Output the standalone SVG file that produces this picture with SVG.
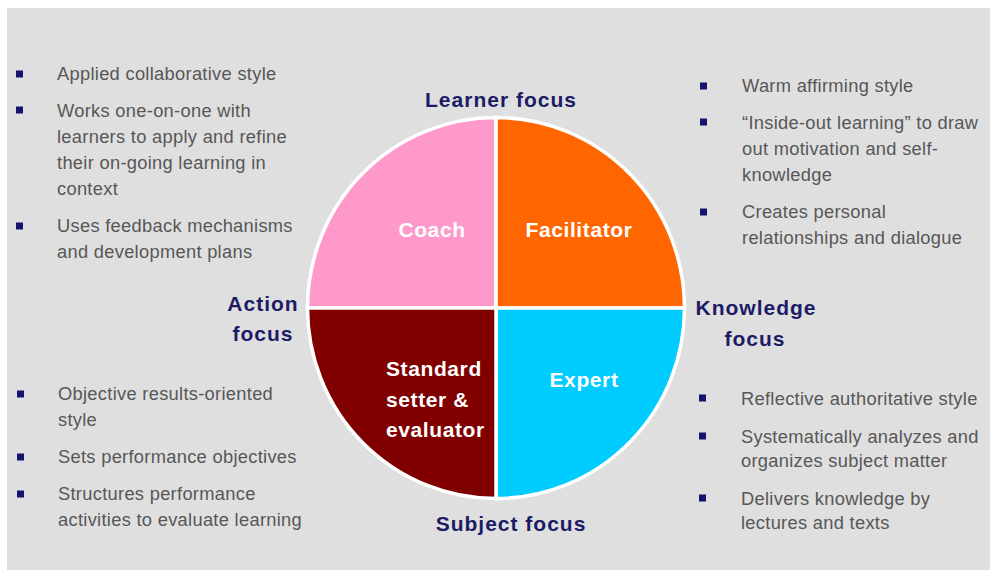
<svg xmlns="http://www.w3.org/2000/svg" width="990" height="580" viewBox="0 0 990 580">
<style>
.body{font-family:"Liberation Sans",Arial,sans-serif;font-size:18.3px;fill:#575757;letter-spacing:0.3px}
.axis{font-family:"Liberation Sans",Arial,sans-serif;font-size:21px;font-weight:bold;fill:#1c1c66;letter-spacing:1px}
.role{font-family:"Liberation Sans",Arial,sans-serif;font-size:21px;font-weight:bold;fill:#ffffff;letter-spacing:0.6px}
.q{stroke:#ffffff;stroke-width:3.5;stroke-linejoin:miter}
.b{fill:#14146e}
</style>
<rect x="0" y="0" width="990" height="580" fill="#ffffff"/>
<rect x="7" y="8" width="983" height="562" fill="#dfdfdf"/>

<g id="coach">
<path class="q" fill="#ff99cc" d="M496,308 L307.5,308 A188.5,190.5 0 0 1 496,117.5 Z"/>
<text class="role" x="432" y="237" text-anchor="middle">Coach</text>
</g>
<g id="facilitator">
<path class="q" fill="#ff6600" d="M496,308 L496,117.5 A188.5,190.5 0 0 1 684.5,308 Z"/>
<text class="role" x="579" y="237" text-anchor="middle">Facilitator</text>
</g>
<g id="expert">
<path class="q" fill="#00ccff" d="M496,308 L684.5,308 A188.5,190.5 0 0 1 496,498.5 Z"/>
<text class="role" x="584" y="387" text-anchor="middle">Expert</text>
</g>
<g id="standard-setter">
<path class="q" fill="#800000" d="M496,308 L496,498.5 A188.5,190.5 0 0 1 307.5,308 Z"/>
<text class="role" x="386" y="376">Standard</text>
<text class="role" x="386" y="407">setter &amp;</text>
<text class="role" x="386" y="437">evaluator</text>
</g>

<g id="learner-focus"><text class="axis" x="501" y="107" text-anchor="middle">Learner focus</text></g>
<g id="subject-focus"><text class="axis" x="511" y="531" text-anchor="middle">Subject focus</text></g>
<g id="action-focus">
<text class="axis" x="263" y="311" text-anchor="middle">Action</text>
<text class="axis" x="263" y="341" text-anchor="middle">focus</text>
</g>
<g id="knowledge-focus">
<text class="axis" x="756" y="315" text-anchor="middle">Knowledge</text>
<text class="axis" x="755" y="346" text-anchor="middle">focus</text>
</g>

<g id="coach-notes">
<rect class="b" x="16" y="70.5" width="7" height="7"/>
<text class="body" x="57" y="80">Applied collaborative style</text>
<rect class="b" x="16" y="106.5" width="7" height="7"/>
<text class="body" x="57" y="117">Works one-on-one with</text>
<text class="body" x="57" y="143">learners to apply and refine</text>
<text class="body" x="57" y="169">their on-going learning in</text>
<text class="body" x="57" y="195">context</text>
<rect class="b" x="16" y="222.5" width="7" height="7"/>
<text class="body" x="57" y="232">Uses feedback mechanisms</text>
<text class="body" x="57" y="258">and development plans</text>
</g>

<g id="facilitator-notes">
<rect class="b" x="700" y="82.5" width="7" height="7"/>
<text class="body" x="742" y="92">Warm affirming style</text>
<rect class="b" x="700" y="118.5" width="7" height="7"/>
<text class="body" x="742" y="129">“Inside-out learning” to draw</text>
<text class="body" x="742" y="155">out motivation and self-</text>
<text class="body" x="742" y="181">knowledge</text>
<rect class="b" x="700" y="208.5" width="7" height="7"/>
<text class="body" x="742" y="218">Creates personal</text>
<text class="body" x="742" y="244">relationships and dialogue</text>
</g>

<g id="standard-notes">
<rect class="b" x="17" y="390.5" width="7" height="7"/>
<text class="body" x="58" y="400">Objective results-oriented</text>
<text class="body" x="58" y="426">style</text>
<rect class="b" x="17" y="453.5" width="7" height="7"/>
<text class="body" x="58" y="463">Sets performance objectives</text>
<rect class="b" x="17" y="490.5" width="7" height="7"/>
<text class="body" x="58" y="500">Structures performance</text>
<text class="body" x="58" y="526">activities to evaluate learning</text>
</g>

<g id="expert-notes">
<rect class="b" x="699" y="394.5" width="7" height="7"/>
<text class="body" x="741" y="405">Reflective authoritative style</text>
<rect class="b" x="699" y="432.5" width="7" height="7"/>
<text class="body" x="741" y="443">Systematically analyzes and</text>
<text class="body" x="741" y="467">organizes subject matter</text>
<rect class="b" x="699" y="494.5" width="7" height="7"/>
<text class="body" x="741" y="505">Delivers knowledge by</text>
<text class="body" x="741" y="529">lectures and texts</text>
</g>
</svg>
